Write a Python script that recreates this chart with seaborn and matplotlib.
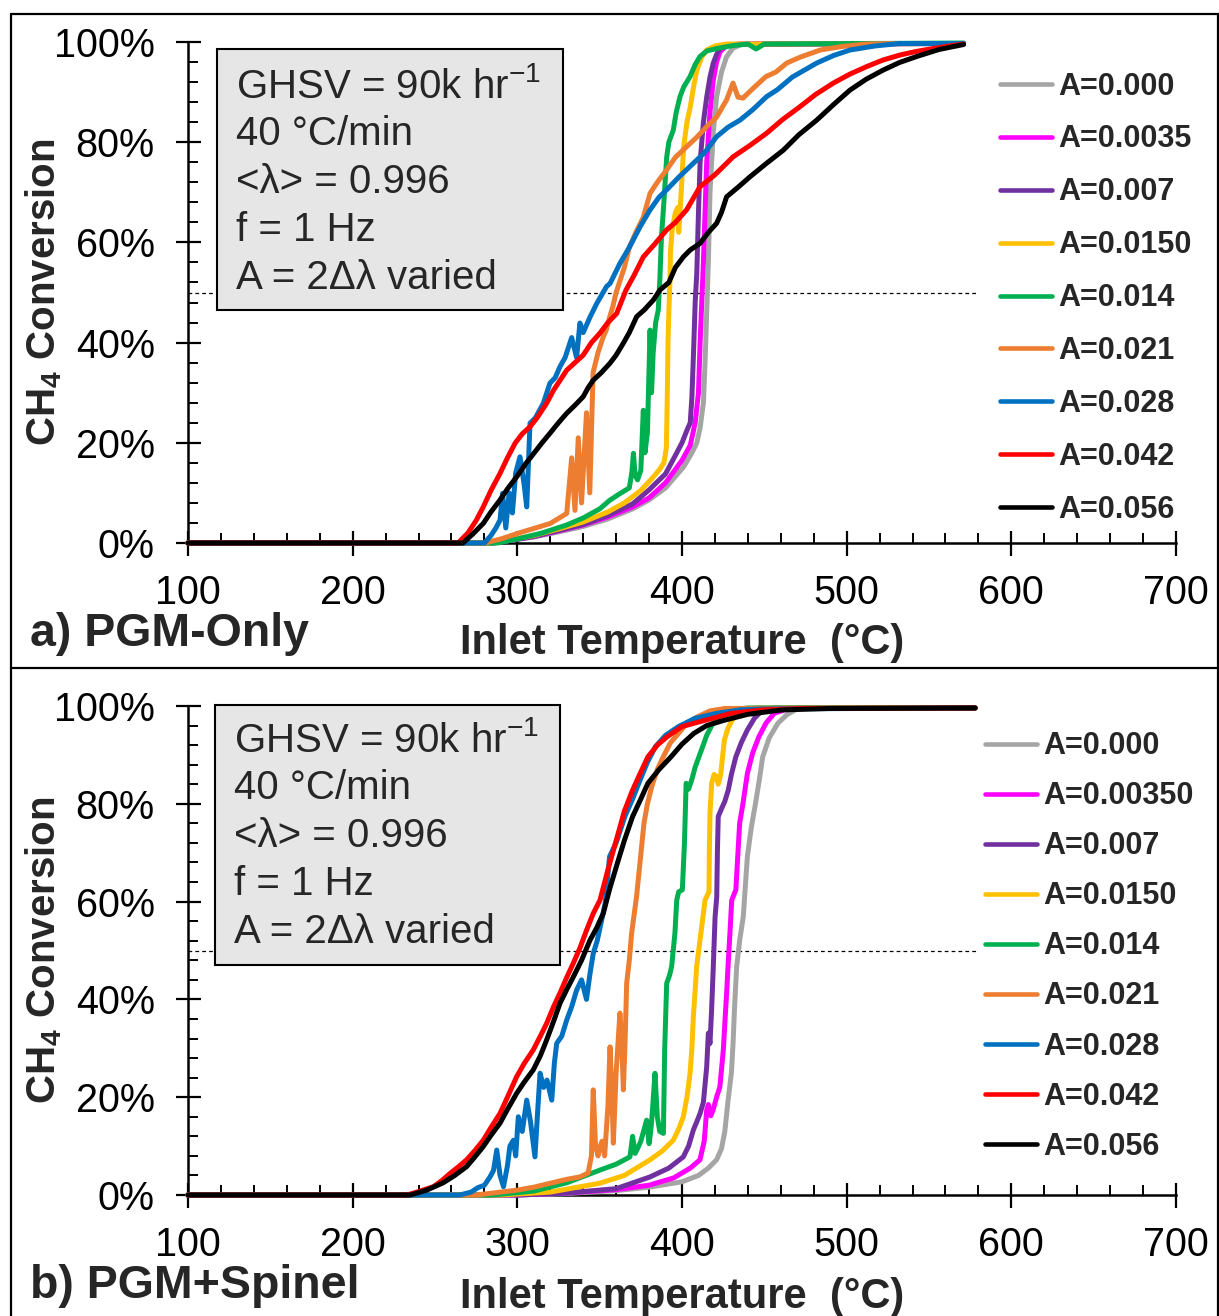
import matplotlib
matplotlib.use("Agg")
import numpy as np
import pandas as pd
import matplotlib.pyplot as plt
import seaborn as sns
from matplotlib.patches import Rectangle
from matplotlib.lines import Line2D
from matplotlib.ticker import MultipleLocator, FuncFormatter

# ---------------- data: panel a) PGM-Only ----------------
a_labels = ["A=0.000", "A=0.0035", "A=0.007", "A=0.0150", "A=0.014",
            "A=0.021", "A=0.028", "A=0.042", "A=0.056"]
b_labels = ["A=0.000", "A=0.00350", "A=0.007", "A=0.0150", "A=0.014",
            "A=0.021", "A=0.028", "A=0.042", "A=0.056"]
colors = ["#A5A5A5", "#FF00FF", "#7030A0", "#FFC000", "#00B050",
          "#ED7D31", "#0070C0", "#FF0000", "#000000"]

a_grey_T = [100, 285, 295, 310, 325, 340, 355, 370, 380, 390, 401, 406, 409, 411, 413, 414, 415, 416, 417, 419, 421, 424, 427, 431, 436, 450, 571]
a_grey_C = [0, 0, 0.5, 1.2, 2.2, 3.3, 4.8, 6.8, 8.6, 11, 15.2, 18, 20, 23, 28, 36, 46, 56, 70, 82, 89, 94, 97, 98.8, 99.5, 99.7, 99.7]

a_mag_T = [100, 285, 295, 310, 325, 340, 355, 370, 380, 390, 400, 405, 408, 410, 411, 412, 413, 414, 415, 417, 419, 421, 423, 427, 435, 571]
a_mag_C = [0, 0, 0.5, 1.3, 2.4, 3.6, 5.2, 7.2, 9, 12, 16.5, 19.5, 24, 30, 40, 48, 56, 66, 76, 86, 92.4, 96, 98, 99.3, 99.6, 99.7]

a_pur_T = [100, 285, 295, 310, 325, 340, 355, 370, 380, 390, 396, 400, 403, 405, 406, 407, 408, 409, 410, 411, 413, 415, 417, 419, 421, 423, 428, 571]
a_pur_C = [0, 0, 0.5, 1.3, 2.5, 3.7, 5.5, 7.8, 10.6, 13.8, 17.5, 20, 22.5, 24, 29, 38, 48, 54, 66, 76, 84, 89, 93, 95.8, 97.5, 98.7, 99.5, 99.7]

a_yel_T = [100, 283, 295, 310, 325, 340, 355, 365, 375, 381, 386, 389, 390.5, 391, 391.5, 392, 392.7, 393, 394, 396, 397.5, 398, 399.5, 401, 403, 405, 407, 409, 412, 415, 420, 427, 571]
a_yel_C = [0, 0, 0.6, 1.5, 2.8, 4.2, 6.2, 8, 10.5, 12.6, 14.5, 16, 19, 28, 40, 46, 52.5, 58, 62.5, 66, 67, 62, 70, 79, 84, 87, 91, 94.4, 97, 98.4, 99.2, 99.6, 99.7]

a_grn_T = [100, 288, 300, 315, 330, 340, 350, 356, 362, 368, 369.5, 370.5, 371.5, 373, 375, 376.5, 377.5, 379, 380.6, 381.5, 382.5, 384, 385.6, 386.6, 387.5, 389, 390.7, 392, 394.7, 396.5, 398.8, 401, 404.9, 408, 410.9, 415, 421, 431, 440, 445, 450, 571]
a_grn_C = [0, 0, 0.8, 2, 3.6, 5, 6.8, 8.5, 9.8, 11, 14, 17.9, 13.5, 12.6, 14.5, 26.5, 18, 22, 42.5, 30, 38, 44, 46.5, 53, 61, 68, 77, 80, 82.4, 86, 89.1, 91, 93.1, 95.5, 97.1, 98.2, 98.7, 99.3, 99.6, 98.6, 99.6, 99.8]

a_orn_T = [100, 280, 290, 300, 310, 320, 330, 333, 335, 337, 339, 342, 344, 346, 349, 352, 354, 356, 358, 360, 362, 365, 368, 372, 376.5, 380.6, 385, 390.7, 396, 402.8, 409, 415, 421, 427, 431, 434, 437, 444, 451, 457, 463.6, 472, 484, 497, 512, 530, 571]
a_orn_C = [0, 0, 0.8, 1.9, 2.9, 3.9, 5.9, 17, 6.5, 21, 8, 26, 10, 34, 38, 41, 42.5, 45, 47.2, 50, 52, 55, 59, 62, 65, 69.8, 72, 74.5, 77, 79.1, 81, 83.1, 85, 88.4, 91.8, 89, 88.8, 91, 93.1, 94, 95.8, 97, 98.4, 99.1, 99.6, 99.7, 99.7]

a_blu_T = [100, 280, 284, 287, 289.5, 291, 293, 295, 297, 299, 301.6, 304, 305.7, 307.7, 311, 315.8, 319.8, 323, 325.9, 329, 333, 336, 338, 340, 344, 348.2, 354.2, 356.3, 362.3, 368, 374.5, 380.6, 386, 390.7, 398, 406.9, 414, 421, 428, 435.2, 443, 451.4, 458, 467, 481.8, 492, 502, 517, 532, 571]
a_blu_C = [0, 0, 1.5, 3, 4.6, 9.9, 3, 10, 6, 14, 17.2, 12, 7.2, 23.9, 25, 27.9, 31.9, 33, 35.2, 37, 41, 37, 43.9, 42, 45, 47.8, 51.2, 51.8, 55.8, 59, 63.1, 66.5, 69, 70.5, 73, 75.8, 78, 81.1, 83, 84.4, 86.5, 89.1, 90.5, 93, 95.8, 97.3, 98.4, 99.2, 99.7, 99.7]

a_red_T = [100, 264, 270, 275, 279.3, 284, 289.5, 294, 298.6, 303, 307.7, 312, 317.8, 322, 326, 330, 335, 340, 345, 350.2, 355, 360.3, 366, 371, 376.5, 383, 390.7, 396, 402.8, 410.9, 420, 431.1, 441, 451.4, 461, 471.7, 481, 491.9, 502, 512.2, 522, 532.4, 542, 552.6, 562, 571]
a_red_C = [0, 0, 2, 4.5, 7.2, 10.5, 13.9, 17, 19.9, 21.8, 23.2, 25, 27.9, 30.5, 32.5, 34.5, 36, 37.5, 40, 41.9, 44, 45.8, 50.5, 53.5, 57.1, 59.5, 62.5, 64, 66.5, 71.1, 73.5, 77.1, 79.3, 81.8, 84.5, 87.1, 89.5, 91.8, 93.6, 95.1, 96.4, 97.4, 98.1, 98.7, 99.2, 99.6]

a_blk_T = [100, 267, 273, 279.3, 284, 289.5, 294, 299.6, 305, 311.7, 315, 319.8, 325, 330, 335, 340, 343, 346.1, 351, 356.3, 360, 364.4, 368, 372.5, 377, 382.6, 386.6, 392, 396, 400.8, 405, 410.9, 416, 421, 424, 427.1, 434, 441.3, 451, 461.5, 471, 481.8, 492, 502, 512, 522.2, 532, 542.5, 556, 571]
a_blk_C = [0, 0, 1.8, 3.9, 6.2, 8.6, 10.8, 13.2, 15.8, 18.6, 20, 21.9, 24, 25.9, 27.5, 29.2, 31, 32.5, 34, 35.9, 37.5, 39.9, 42, 45.2, 46.5, 48.5, 50.5, 52, 55, 57.1, 58.5, 59.8, 62, 63.8, 66, 69.1, 71, 73.1, 75.7, 78.4, 81.5, 84.4, 87.5, 90.4, 92.6, 94.4, 95.9, 97.1, 98.5, 99.5]

# ---------------- data: panel b) PGM+Spinel ----------------
b_grey_T = [100, 300, 330, 360, 380, 400, 410, 416, 421, 424, 426, 428, 430, 431, 432, 433.2, 435, 437.2, 439.7, 442, 444.3, 447, 449, 453, 458.3, 464, 470, 480, 578]
b_grey_C = [0, 0, 0.3, 0.9, 1.6, 2.7, 4, 5.5, 7.2, 9.5, 13, 19.4, 25, 31, 39, 46.7, 52, 56.9, 69.2, 75, 79.4, 85, 89.6, 93.5, 96.5, 98.3, 99.4, 99.6, 99.6]

b_mag_T = [100, 300, 330, 360, 380, 395, 405, 410.9, 413.5, 415, 416, 417.5, 419, 421, 423, 425.1, 426, 427.1, 428, 429.1, 430.2, 432.7, 435, 437, 439.7, 443, 446.7, 451, 456, 463, 470, 578]
b_mag_C = [0, 0, 0.4, 1.1, 2, 3.5, 5.5, 7.2, 11, 17.4, 18.5, 16.2, 17.5, 20, 22.1, 29.7, 35, 41.3, 47, 53.5, 60.3, 62.4, 76, 80, 86.2, 90.5, 93.7, 96.5, 98.5, 99.3, 99.6, 99.6]

b_pur_T = [100, 300, 330, 360, 380.6, 392, 400.8, 404, 406.9, 409, 411, 413, 415, 416, 417, 418, 419, 420.1, 421.1, 421.5, 422, 424, 426, 428.1, 430, 432.7, 436, 439.7, 444, 449, 456, 578]
b_pur_C = [0, 0, 0.4, 1.3, 3.7, 5.5, 7.8, 10, 13.3, 15, 16.7, 19, 26.2, 33.1, 31, 38, 46.7, 56.9, 61, 70, 77.4, 79, 80.5, 82.8, 86, 89.6, 92.5, 95.1, 97.5, 99.2, 99.6, 99.6]

b_yel_T = [100, 290, 320, 350, 365, 380.6, 388, 394.7, 398, 400.8, 403, 404.9, 406, 406.9, 408, 408.9, 410.5, 412, 414, 416.4, 416.6, 417, 418, 419.5, 421.1, 422, 423.5, 425.7, 428, 430.4, 434, 437.6, 445, 578]
b_yel_C = [0, 0, 0.6, 2.4, 4, 7.2, 9, 11.2, 13.5, 16, 20, 24.9, 30, 36.5, 42, 46.7, 51, 54.9, 60.3, 62, 70, 78, 84.2, 86, 85.5, 84, 86, 93, 95.5, 97.1, 98.3, 99.2, 99.6, 99.6]

b_grn_T = [100, 285, 310, 330, 350.2, 360, 368.4, 370, 371.5, 373, 375, 378.5, 380, 381, 382, 383.6, 385, 386.5, 388.7, 389.5, 390.7, 392.5, 393.7, 395.7, 396.8, 398, 400.2, 401.5, 402.5, 404, 406, 408, 411.8, 415, 418.8, 424, 430.4, 440, 578]
b_grn_C = [0, 0, 0.8, 2.5, 5.1, 6.3, 7.8, 12, 8.5, 9.5, 11, 15.3, 10.5, 13, 17, 24.9, 16, 13, 12.6, 30, 43.3, 45, 46.7, 53.5, 60.3, 62, 62.4, 72, 84.2, 83, 85, 87.5, 91, 94, 96.5, 98.2, 99.2, 99.6, 99.6]

b_orn_T = [100, 275, 290, 300, 310, 320, 330, 338, 343, 345, 346.1, 347.5, 349, 350.2, 351.5, 353, 355, 356.3, 357.5, 358.3, 360, 362.3, 363.5, 364.4, 365.5, 366.4, 368, 369.4, 372.4, 374.5, 376.9, 379, 381.6, 385, 388.6, 393, 397.9, 403, 409.5, 417, 426, 578]
b_orn_C = [0, 0, 0.6, 1, 1.6, 2.4, 3.2, 3.7, 4.5, 8, 21.5, 10, 8, 9.9, 11, 8, 18, 30.3, 20, 10.6, 25, 37.2, 30, 21.5, 32, 43.3, 48, 53.5, 61, 68, 76, 80, 83.5, 87, 89.6, 92.5, 94.4, 96.5, 97.8, 99, 99.5, 99.6]

b_blu_T = [100, 265, 272, 276, 280, 283.4, 285.5, 287.5, 289.5, 291.6, 294, 295.5, 297.6, 299, 300.6, 303, 305.7, 308, 310.7, 312.5, 313.8, 316, 318, 320.9, 322.5, 323.9, 327, 330, 333, 336, 339, 342, 344, 346.1, 348.5, 351.2, 353.5, 356, 360, 365.3, 370, 374.6, 379, 383.9, 390, 397.9, 408, 421.1, 435, 449, 578]
b_blu_C = [0, 0, 0.6, 1.5, 2, 3.7, 5, 9.2, 4, 1.7, 6, 10, 11.2, 8, 16, 13, 19.4, 15, 7.8, 18, 24.9, 22, 23.5, 19.4, 27, 31, 32.5, 35.8, 38.5, 41.9, 44, 40, 45, 49.4, 52, 56.2, 60, 69.2, 72, 77.4, 81, 84.9, 88.5, 91.7, 94, 95.8, 97.5, 98.5, 99.2, 99.4, 99.6]

b_red_T = [100, 233, 240, 249, 254, 259.1, 264, 269.2, 274, 279.3, 284, 289.5, 294, 299.6, 304, 309.7, 314, 317.8, 322, 325.9, 330, 334, 338, 342.1, 346, 350.2, 355, 360.7, 365, 370, 375, 379.3, 385, 390.9, 400, 414.2, 430, 449, 475, 578]
b_red_C = [0, 0, 0.7, 1.7, 2.9, 4.4, 5.7, 7.2, 9, 11.2, 13.8, 16.7, 20, 24.2, 26.8, 29.7, 32.5, 35.1, 38.5, 41.3, 44.5, 47.4, 50.5, 54.2, 57.5, 60.3, 66.5, 73.3, 78.5, 82.8, 86.5, 89.6, 92, 93.7, 95.8, 97.1, 98.5, 99.2, 99.5, 99.6]

b_blk_T = [100, 235, 245, 255, 262, 269.2, 274, 279.3, 284, 289.5, 294, 299.6, 304, 309.7, 314, 317.8, 322, 325.9, 330, 334, 339, 344.1, 348, 352.2, 356, 360.7, 365, 370, 375, 379.3, 386, 393.3, 400, 407.2, 415, 425.8, 440, 460.6, 490, 578]
b_blk_C = [0, 0, 1, 2.5, 4, 5.8, 7.7, 9.9, 12.2, 14.7, 17.5, 20.8, 23, 25.6, 28.5, 31.7, 35.5, 39.2, 42, 44.6, 48, 52.1, 54.5, 57.6, 62.5, 67.8, 72.5, 77.4, 81, 84.2, 87, 89.6, 92.2, 94.4, 96, 97.1, 98.3, 99.2, 99.5, 99.6]

info_lines = [r"GHSV = 90k hr$^{\mathrm{-1}}$", "40 °C/min", "<λ> = 0.996",
              "f = 1 Hz", "A = 2Δλ varied"]
x_ticks = [100, 200, 300, 400, 500, 600, 700]
y_ticks = [0, 20, 40, 60, 80, 100]

a_curves = [(a_grey_T, a_grey_C), (a_mag_T, a_mag_C), (a_pur_T, a_pur_C),
            (a_yel_T, a_yel_C), (a_grn_T, a_grn_C), (a_orn_T, a_orn_C),
            (a_blu_T, a_blu_C), (a_red_T, a_red_C), (a_blk_T, a_blk_C)]
b_curves = [(b_grey_T, b_grey_C), (b_mag_T, b_mag_C), (b_pur_T, b_pur_C),
            (b_yel_T, b_yel_C), (b_grn_T, b_grn_C), (b_orn_T, b_orn_C),
            (b_blu_T, b_blu_C), (b_red_T, b_red_C), (b_blk_T, b_blk_C)]

# ---------------- style ----------------
sns.set_style("white")
plt.rcParams['font.family'] = ['Liberation Sans', 'DejaVu Sans']
plt.rcParams['mathtext.fontset'] = 'custom'
plt.rcParams['mathtext.rm'] = 'Liberation Sans'
plt.rcParams['mathtext.it'] = 'Liberation Sans:italic'
plt.rcParams['mathtext.bf'] = 'Liberation Sans:bold'

W, H = 1219, 1316
fig = plt.figure(figsize=(W / 100, H / 100), dpi=100)
LW = 3.6


def ax_rect(x0, x1, ytop, ybot):
    return [x0 / W, 1 - ybot / H, (x1 - x0) / W, (ybot - ytop) / H]


def build(curves, labels):
    frames = [pd.DataFrame({"T": T, "C": C, "series": lab})
              for (T, C), lab in zip(curves, labels)]
    return pd.concat(frames, ignore_index=True)


def draw_panel(ax, curves, labels, box, text_x, text_y0, text_dy,
               leg_anchor, leg_spacing, xlab_y):
    df = build(curves, labels)
    sns.lineplot(data=df, x="T", y="C", hue="series", hue_order=labels,
                 palette=dict(zip(labels, colors)), sort=False, estimator=None,
                 lw=LW, ax=ax, clip_on=False, zorder=3)
    handles, labs = ax.get_legend_handles_labels()
    if ax.get_legend() is not None:
        ax.get_legend().remove()
    leg = ax.legend(handles, labs, loc="upper left", bbox_to_anchor=leg_anchor,
                    frameon=False, borderpad=0, borderaxespad=0,
                    handlelength=1.7, handletextpad=0.2,
                    labelspacing=leg_spacing,
                    prop={"weight": "bold", "size": 22})
    for h in leg.legend_handles:
        h.set_linewidth(3.3)
    # 50% reference line
    ax.plot([100, 580], [50, 50], color="black", lw=0.9, ls=(0, (3, 2.5)), zorder=1)
    # parameters box
    ax.add_patch(Rectangle((box[0], box[1]), box[2], box[3], transform=ax.transAxes,
                           facecolor="#E6E6E6", edgecolor="black", lw=1.5,
                           zorder=5, clip_on=False))
    for i, line in enumerate(info_lines):
        ax.text(text_x, text_y0 - i * text_dy, line, transform=ax.transAxes,
                fontsize=29, va="center", ha="left", zorder=6)

    ax.set_xlim(100, 700)
    ax.set_ylim(0, 100)
    ax.set_xticks(x_ticks)
    ax.set_yticks(y_ticks)
    ax.xaxis.set_minor_locator(MultipleLocator(20))
    ax.yaxis.set_minor_locator(MultipleLocator(4))
    ax.yaxis.set_major_formatter(FuncFormatter(lambda v, p: f"{v:.0f}%"))
    ax.tick_params(which="major", direction="inout", length=18, width=1.6,
                   labelsize=28.5, color="black", labelcolor="black")
    ax.tick_params(axis="y", which="major", pad=15)
    ax.tick_params(axis="x", which="major", pad=13)
    ax.tick_params(which="minor", direction="in", length=7.5, width=1.4, color="black")
    ax.tick_params(bottom=True, left=True, which="both")
    for s in ["top", "right"]:
        ax.spines[s].set_visible(False)
    for s in ["left", "bottom"]:
        ax.spines[s].set_linewidth(1.8)
        ax.spines[s].set_color("black")
    ax.set_xlabel("Inlet Temperature  (°C)", fontsize=30, fontweight="bold")
    ax.set_ylabel(r"CH$_{\mathbf{4}}$ Conversion", fontsize=29, fontweight="bold")
    ax.xaxis.set_label_coords(0.5, xlab_y)
    ax.yaxis.set_label_coords(-0.126, 0.5)
    ax.set_facecolor("white")


axA = fig.add_axes(ax_rect(188, 1176, 42, 543))
axB = fig.add_axes(ax_rect(188, 1176, 706, 1195))

draw_panel(axA, a_curves, a_labels,
           box=(0.0294, 0.465, 0.3502, 0.521), text_x=0.0486, text_y0=0.912,
           text_dy=0.0958, leg_anchor=(0.822, 0.941), leg_spacing=0.75, xlab_y=-0.16)
draw_panel(axB, b_curves, b_labels,
           box=(0.0273, 0.470, 0.3492, 0.532), text_x=0.0466, text_y0=0.93,
           text_dy=0.098, leg_anchor=(0.807, 0.948), leg_spacing=0.655, xlab_y=-0.168)

fig.text(30 / W, 1 - 634 / H, "a) PGM-Only", fontsize=33.5, fontweight="bold",
         va="center", ha="left")
fig.text(30 / W, 1 - 1286 / H, "b) PGM+Spinel", fontsize=33.5, fontweight="bold",
         va="center", ha="left")

# panel frames
for xs, ys in [([11, 11], [14, 1316]), ([11, 1219], [14, 14]),
               ([11, 1219], [668, 668]), ([1218, 1218], [14, 1316])]:
    fig.add_artist(Line2D([x / W for x in xs], [1 - y / H for y in ys],
                          color="black", lw=1.6, transform=fig.transFigure))

fig.savefig("out.png", dpi=100, facecolor="white")
